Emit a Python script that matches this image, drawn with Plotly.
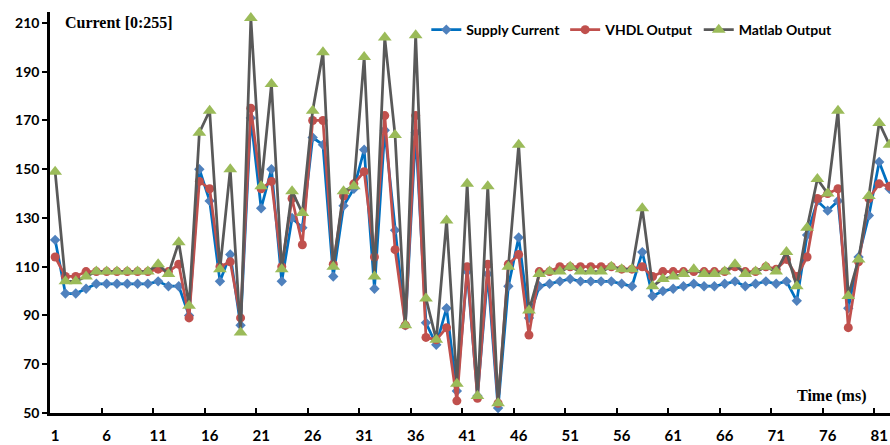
import plotly.graph_objects as go

time_ms = list(range(1, 83))

supply_current = [121, 99, 99, 101, 103, 103, 103, 103, 103, 103,
                  104, 102, 102, 90, 150, 137, 104, 115, 86, 171,
                  134, 150, 104, 130, 126, 163, 160, 106, 135, 142,
                  158, 101, 166, 125, 86, 165, 87, 78, 93, 59,
                  108, 57, 107, 52, 102, 122, 89, 102, 103, 104,
                  105, 104, 104, 104, 104, 103, 102, 116, 98, 100,
                  101, 102, 103, 102, 102, 103, 104, 102, 103, 104,
                  103, 104, 96, 123, 137, 133, 137, 93, 114, 131,
                  153, 142]

vhdl_output = [114, 106, 106, 108, 108, 108, 108, 108, 108, 108,
               109, 108, 111, 89, 145, 142, 110, 112, 89, 175,
               142, 145, 110, 138, 119, 170, 170, 111, 139, 144,
               149, 114, 172, 117, 86, 172, 81, 80, 85, 55,
               110, 56, 111, 54, 111, 115, 82, 108, 108, 110,
               110, 110, 110, 110, 110, 109, 109, 110, 106, 108,
               108, 108, 108, 108, 108, 108, 110, 108, 108, 110,
               109, 113, 106, 114, 138, 140, 142, 85, 112, 138,
               144, 143]

matlab_output = [149, 104, 104, 106, 108, 108, 108, 108, 108, 108,
                 111, 107, 120, 94, 165, 174, 109, 150, 83, 212,
                 143, 185, 109, 141, 132, 174, 198, 110, 141, 143,
                 196, 106, 204, 164, 86, 205, 97, 80, 129, 62,
                 144, 57, 143, 54, 110, 160, 92, 107, 108, 108,
                 110, 108, 108, 108, 110, 109, 109, 134, 102, 105,
                 106, 107, 109, 107, 107, 108, 111, 107, 108, 110,
                 108, 116, 102, 126, 146, 140, 174, 98, 113, 139,
                 169, 160]

x_tick_vals = list(range(1, 82, 5))
x_tick_text = [str(v) for v in x_tick_vals]
y_tick_vals = list(range(50, 211, 20))
x_minor_ticks = [0.5 + 5 * k for k in range(1, 17)]

FONT = "Lato"

fig = go.Figure()
fig.add_trace(go.Scatter(
    x=time_ms, y=supply_current, name="Supply Current", mode="lines+markers",
    line=dict(color="#0070C0", width=2.75),
    marker=dict(symbol="diamond", size=8, color="#4F81BD", line=dict(width=0)),
))
fig.add_trace(go.Scatter(
    x=time_ms, y=vhdl_output, name="VHDL Output", mode="lines+markers",
    line=dict(color="#C0504D", width=2.75),
    marker=dict(symbol="circle", size=9, color="#C0504D", line=dict(width=0)),
))
fig.add_trace(go.Scatter(
    x=time_ms, y=matlab_output, name="Matlab Output", mode="lines+markers",
    line=dict(color="#595959", width=2.75),
    marker=dict(symbol="triangle-up", size=12, color="#9BBB59", line=dict(width=0)),
))

fig.update_layout(
    width=890, height=445,
    margin=dict(l=50, r=0, t=12, b=32, autoexpand=False),
    paper_bgcolor="white", plot_bgcolor="white",
    font=dict(family=FONT, size=14, color="black"),
    showlegend=True,
    legend=dict(
        orientation="h", x=0.448, y=0.955, xanchor="left", yanchor="middle",
        font=dict(family=FONT, size=14, color="black", weight="bold"),
        bgcolor="rgba(0,0,0,0)", itemwidth=30, tracegroupgap=0,
    ),
    xaxis=dict(
        range=[0.5, 82.05], showgrid=False, zeroline=False,
        showline=True, linecolor="black", linewidth=3,
        tickmode="array", tickvals=x_tick_vals, ticktext=x_tick_text,
        ticks="", ticklabelstandoff=7,
        tickfont=dict(family=FONT, size=15, color="black", weight="bold"),
        minor=dict(tickmode="array", tickvals=x_minor_ticks, ticks="inside",
                   ticklen=5, tickwidth=2, tickcolor="black", showgrid=False),
        automargin=False,
    ),
    yaxis=dict(
        range=[50, 214.5], showgrid=False, zeroline=False,
        showline=True, linecolor="black", linewidth=2.5,
        tickmode="array", tickvals=y_tick_vals,
        ticks="outside", ticklen=5, tickwidth=2, tickcolor="black",
        tickfont=dict(family=FONT, size=14, color="black", weight="bold"),
        automargin=False,
    ),
    annotations=[
        dict(text="Current [0:255]", xref="paper", yref="paper", x=0.0155, y=0.9726,
             xanchor="left", yanchor="middle", showarrow=False,
             font=dict(family="Liberation Serif", size=16, color="black", weight="bold")),
        dict(text="Time (ms)", xref="paper", yref="paper", x=0.887, y=0.042,
             xanchor="left", yanchor="middle", showarrow=False,
             font=dict(family="Liberation Serif", size=16, color="black", weight="bold")),
    ],
)

fig.write_html("out.html", config={"displayModeBar": False},
               post_script="document.body.style.margin='0';")
